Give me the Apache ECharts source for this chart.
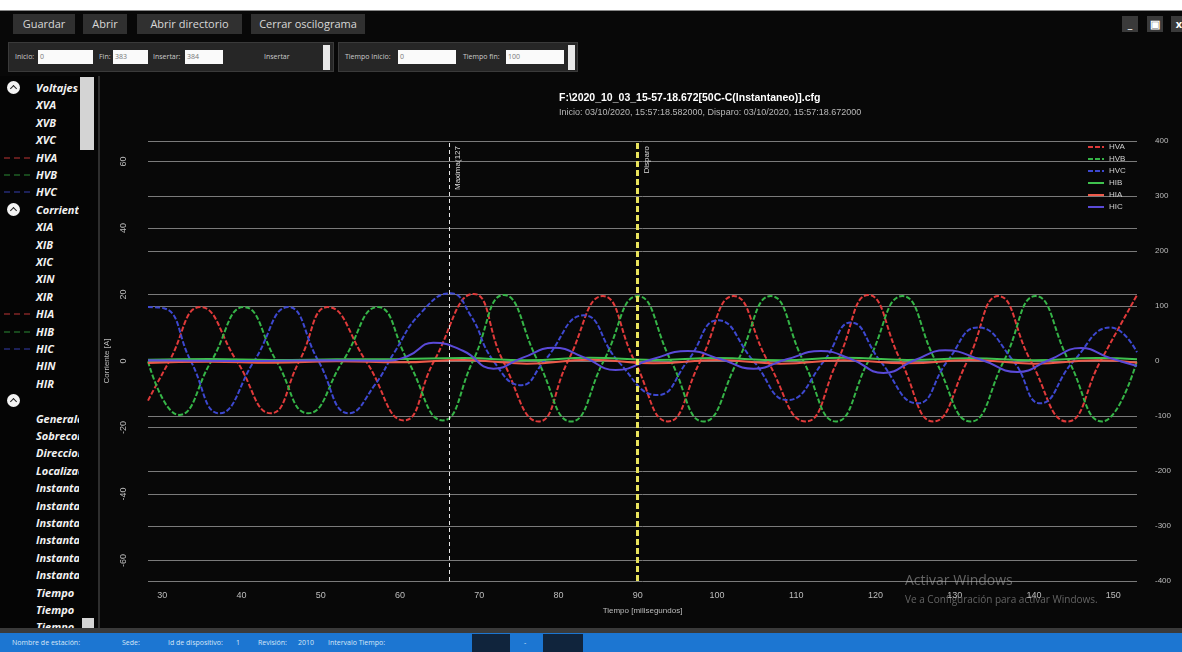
<!DOCTYPE html>
<html>
<head>
<meta charset="utf-8">
<script src="https://cdn.jsdelivr.net/npm/echarts@6/dist/echarts.min.js"></script>
<style>
html, body { margin: 0; padding: 0; width: 1182px; height: 652px; overflow: hidden; background: #fff; font-family: 'Open Sans', 'Noto Sans', sans-serif; }
#win { position: absolute; left: 0; top: 10px; width: 1182px; height: 642px; background: #080808; border-top: 1px solid #888; }
.btn { position: absolute; top: 14px; height: 20px; line-height: 20px; background: #303030; color: #d8d8d8; font-size: 11px; text-align: center; }
.panel { position: absolute; top: 42px; height: 30px; background: #262626; border: 1px solid #3a3a3a; box-sizing: border-box; }
.lbl { position: absolute; top: 9px; font-size: 7px; color: #ccc; }
.inp { position: absolute; top: 7px; height: 14px; background: #fafafa; color: #777; font-size: 7px; line-height: 14px; padding-left: 2px; box-sizing: border-box; }
.scr { position: absolute; top: 2px; width: 7px; height: 25px; background: #e8e8e8; }
.wbtn { position: absolute; top: 16px; width: 16px; height: 16px; background: #3a3a3a; color: #fff; font-size: 11px; font-weight: bold; line-height: 16px; text-align: center; }
#side { position: absolute; left: 0; top: 76px; width: 98px; height: 556px; background: #050505; border-right: 2px solid #2e2e2e; overflow: hidden; }
#sideList { position: absolute; left: 0; top: 0; width: 79px; height: 556px; overflow: hidden; }
.item { position: absolute; left: 36px; font-size: 11px; font-style: italic; font-weight: bold; color: #f2f2f2; white-space: nowrap; line-height: 14px; }
.circ { position: absolute; left: 7px; width: 13px; height: 13px; border-radius: 50%; background: #f4f4f4; }
.circ:after { content: ''; position: absolute; left: 4px; top: 5px; width: 4px; height: 4px; border-left: 1.5px solid #222; border-top: 1.5px solid #222; transform: rotate(45deg); }
.sw { position: absolute; left: 4px; width: 26px; height: 0; border-top: 2px dashed; opacity: 0.45; }
#chart { position: absolute; left: 102px; top: 76px; width: 1080px; height: 552px; }
#hbar { position: absolute; left: 0; top: 628px; width: 1182px; height: 5px; background: #3a3a3a; }
#status { position: absolute; left: 0; top: 633px; width: 1182px; height: 19px; background: #1c76d2; }
.st { position: absolute; top: 5px; font-size: 7px; color: #d7e6f7; white-space: nowrap; }
.stbox { position: absolute; top: 1px; height: 18px; background: #10243c; }
#wm1 { position: absolute; left: 905px; top: 570px; font-size: 14px; color: rgba(190,190,190,0.5); white-space: nowrap; }
#wm2 { position: absolute; left: 905px; top: 592px; font-size: 10px; color: rgba(190,190,190,0.5); white-space: nowrap; }
</style>
</head>
<body>
<div id="win"></div>
<div class="btn" style="left:13px;width:62px">Guardar</div>
<div class="btn" style="left:83px;width:44px">Abrir</div>
<div class="btn" style="left:137px;width:105px">Abrir directorio</div>
<div class="btn" style="left:251px;width:114px">Cerrar oscilograma</div>
<div class="panel" style="left:8px;width:326px">
  <span class="lbl" style="left:6px">Inicio:</span><div class="inp" style="left:29px;width:55px">0</div>
  <span class="lbl" style="left:90px">Fin:</span><div class="inp" style="left:104px;width:35px">383</div>
  <span class="lbl" style="left:144px">Insertar:</span><div class="inp" style="left:176px;width:38px">384</div>
  <span class="lbl" style="left:255px">Insertar</span><div class="scr" style="left:314px"></div>
</div>
<div class="panel" style="left:338px;width:240px">
  <span class="lbl" style="left:6px">Tiempo Inicio:</span><div class="inp" style="left:59px;width:58px">0</div>
  <span class="lbl" style="left:124px">Tiempo fin:</span><div class="inp" style="left:167px;width:58px">100</div>
  <div class="scr" style="left:229px"></div>
</div>
<div class="wbtn" style="left:1122px">_</div>
<div class="wbtn" style="left:1147px">&#9635;</div>
<div class="wbtn" style="left:1171px">x</div>
<div id="side"><div id="sideList"></div></div>
<div id="chart"></div>
<div id="hbar"></div>
<div id="status">
  <span class="st" style="left:12px">Nombre de estación:</span>
  <span class="st" style="left:122px">Sede:</span>
  <span class="st" style="left:168px">Id de dispositivo:</span>
  <span class="st" style="left:236px">1</span>
  <span class="st" style="left:258px">Revisión:</span>
  <span class="st" style="left:298px">2010</span>
  <span class="st" style="left:328px">Intervalo Tiempo:</span>
  <div class="stbox" style="left:472px;width:38px"></div>
  <span class="st" style="left:524px">-</span>
  <div class="stbox" style="left:543px;width:40px"></div>
</div>
<div id="wm1">Activar Windows</div>
<div id="wm2">Ve a Configuración para activar Windows.</div>
<script>
// lista lateral de canales
let sideNames = ['Voltajes', 'XVA', 'XVB', 'XVC', 'HVA', 'HVB', 'HVC', 'Corrientes', 'XIA', 'XIB', 'XIC', 'XIN', 'XIR', 'HIA', 'HIB', 'HIC', 'HIN', 'HIR', '',
    'Generales', 'Sobrecorriente', 'Direccional', 'Localizador', 'Instantaneo', 'Instantaneo', 'Instantaneo', 'Instantaneo', 'Instantaneo', 'Instantaneo',
    'Tiempo', 'Tiempo', 'Tiempo'];
let headers = [0, 7, 18];
let sideColors = { HVA: '#d23a3a', HVB: '#2f9a3c', HVC: '#3a44c0', HIA: '#d23a3a', HIB: '#2f9a3c', HIC: '#3a44c0' };

let html = '';
sideNames.forEach((name, i) => {
    let y = 5 + i * 17.4;
    if(headers.indexOf(i) >= 0) {
        html += '<div class="circ" style="top:' + y + 'px"></div>';
    }
    if(sideColors[name]) {
        html += '<div class="sw" style="top:' + (y + 6) + 'px;border-color:' + sideColors[name] + '"></div>';
    }
    html += '<div class="item" style="top:' + y + 'px">' + name + '</div>';
});
document.getElementById('sideList').innerHTML = html;
document.getElementById('side').insertAdjacentHTML('beforeend',
    '<div style="position:absolute;left:80px;top:1px;width:14px;height:73px;background:#d4d4d4"></div>' +
    '<div style="position:absolute;left:82px;top:542px;width:12px;height:12px;background:#d4d4d4"></div>');

// ejes
let xTicks = [30, 40, 50, 60, 70, 80, 90, 100, 110, 120, 130, 140, 150];
let leftTicks = [-60, -40, -20, 0, 20, 40, 60];

// tensiones (eje derecho, V)
let hvaT = [28.2, 30.9, 34.8, 39.4, 43.7, 47.3, 50.9, 55.7, 60.5, 64.3, 69.3, 73.0, 77.5, 81.2, 85.6, 89.6, 93.8, 97.9, 102.1, 106.4, 111.2, 115.2, 119.1, 123.2, 127.3, 131.6, 135.5, 139.6, 144.2, 148.4, 153.0];
let hvaV = [-72, 0, 98, 0, -95, 0, 98, 0, -108, 0, 122, 0, -110, 0, 118, 0, -110, 0, 118, 0, -110, 0, 120, 0, -110, 0, 118, 0, -110, 0, 120];

let hvbT = [28.2, 32.1, 36.2, 40.3, 44.4, 48.4, 52.8, 57.2, 61.0, 65.4, 69.2, 73.1, 77.4, 81.6, 85.7, 90.0, 94.2, 98.3, 102.6, 106.8, 110.9, 115.0, 119.1, 123.4, 127.6, 132.0, 136.2, 140.2, 144.4, 148.6, 153.0];
let hvbV = [-1, -98, 0, 98, 0, -95, 0, 98, 0, -108, 0, 120, 0, -110, 0, 118, 0, -110, 0, 118, 0, -110, 0, 118, 0, -110, 0, 118, 0, -110, 0];

let hvcT = [28.2, 30.2, 33.6, 37.2, 41.6, 45.9, 49.7, 53.6, 56.8, 59.3, 62.6, 66.4, 68.9, 71.8, 75.3, 78.2, 83.2, 87.5, 92.5, 96.3, 100.1, 104.6, 108.9, 113.5, 116.9, 120.6, 125.3, 129.1, 132.9, 137.4, 140.8, 145.0, 149.7, 153.0];
let hvcV = [98, 96, 0, -95, 0, 98, 0, -95, -44, 16, 87, 123, 83, 0, -44, 0, 83, 0, -62, 0, 74, 0, -71, 0, 70, 0, -77, 0, 61, 0, -77, 0, 61, 16];

// corrientes (eje izquierdo, A)
let hiaT = [28.2, 36, 44, 52, 60, 68, 76, 84, 92, 100, 108, 116, 124, 132, 140, 148, 153];
let hiaV = [-0.6, -0.2, -0.5, -0.1, -0.4, 0.3, -0.8, 0.4, -0.7, 0.3, -0.8, 0.2, -0.7, 0.3, -0.8, 0.2, -0.5];
let hibT = [28.2, 36, 44, 52, 60, 68, 76, 84, 92, 100, 108, 116, 124, 132, 140, 148, 153];
let hibV = [0.4, 0.6, 0.3, 0.5, 0.6, 0.9, 0.2, 1.0, 0.3, 0.9, 0.2, 1.0, 0.3, 0.8, 0.2, 0.9, 0.5];
let hicT = [28.2, 40, 50, 58, 61, 64.2, 68, 71.8, 75.5, 79.4, 83.3, 87.2, 91.8, 96.3, 100.5, 104.6, 108.8, 113.1, 117, 121, 125, 128.8, 133.4, 137.9, 141.9, 145.9, 149.5, 153];
let hicV = [0.2, 0, 0.2, 0.1, 1.5, 5.5, 3, -2.3, 1, 4, 1, -2.7, 0.5, 3, 0.5, -2.3, 0.5, 3, 0.5, -3.6, 0.3, 3.2, 0.3, -3.3, 0.3, 3.9, 1, -1.5];

// marcadores verticales
let markT = [66.2, 90];
let markText = ['Maxima(127', 'Disparo'];

function pairs(t, v) {
    return t.map((x, i) => [x, v[i]]);
}

let chans = [
    { name: 'HVA', t: hvaT, v: hvaV, color: '#e03a3a', axis: 1, dash: [5, 2] },
    { name: 'HVB', t: hvbT, v: hvbV, color: '#35b447', axis: 1, dash: [5, 2] },
    { name: 'HVC', t: hvcT, v: hvcV, color: '#3d48d0', axis: 1, dash: [5, 2] },
    { name: 'HIB', t: hibT, v: hibV, color: '#3fc24e', axis: 0, dash: 'solid' },
    { name: 'HIA', t: hiaT, v: hiaV, color: '#ee5a4a', axis: 0, dash: 'solid' },
    { name: 'HIC', t: hicT, v: hicV, color: '#5a4ad8', axis: 0, dash: 'solid' }
];

let series = chans.map(c => ({
    name: c.name,
    type: 'line',
    yAxisIndex: c.axis,
    data: pairs(c.t, c.v),
    smooth: 0.5,
    symbol: 'none',
    showSymbol: false,
    animation: false,
    color: c.color,
    lineStyle: { width: 2, type: c.dash, color: c.color }
}));

series[0].markLine = {
    symbol: 'none',
    silent: true,
    animation: false,
    data: [
        { xAxis: markT[0], lineStyle: { color: '#e6e6e6', type: [4, 3], width: 1 },
          label: { formatter: markText[0], position: 'insideEndBottom', color: '#ddd', fontSize: 8 } },
        { xAxis: markT[1], lineStyle: { color: '#e9e35c', type: [6, 3], width: 3 },
          label: { formatter: markText[1], position: 'insideEndBottom', color: '#ddd', fontSize: 8 } }
    ]
};

let myChart = echarts.init(document.getElementById('chart'));
let gridLine = { show: true, lineStyle: { color: '#7a7a7a', width: 1 } };

myChart.setOption({
    backgroundColor: 'transparent',
    animation: false,
    title: {
        text: 'F:\\2020_10_03_15-57-18.672[50C-C(Instantaneo)].cfg',
        subtext: 'Inicio: 03/10/2020, 15:57:18.582000, Disparo: 03/10/2020, 15:57:18.672000',
        left: 452,
        top: 12,
        itemGap: 4,
        textStyle: { color: '#fff', fontSize: 10.5, fontWeight: 'bold' },
        subtextStyle: { color: '#b8b8b8', fontSize: 9 }
    },
    legend: {
        data: chans.map(c => c.name),
        orient: 'vertical',
        left: 980,
        top: 62,
        itemWidth: 16,
        itemHeight: 8,
        itemGap: 4,
        itemStyle: { opacity: 0 },
        textStyle: { color: '#d0d0d0', fontSize: 8 }
    },
    grid: { left: 46, right: 45, top: 65, bottom: 47, outerBoundsMode: 'none' },
    xAxis: {
        type: 'value',
        min: 28.2,
        max: 153,
        axisLine: { show: false },
        axisTick: { show: false, customValues: xTicks },
        splitLine: { show: false },
        axisLabel: { customValues: xTicks, color: '#bdbdbd', fontSize: 9, margin: 10 },
        name: 'Tiempo [milisegundos]',
        nameLocation: 'middle',
        nameGap: 26,
        nameTextStyle: { color: '#bdbdbd', fontSize: 8 }
    },
    yAxis: [
        {
            type: 'value',
            min: -66.2,
            max: 66.2,
            axisLine: { show: false },
            axisTick: { show: false, customValues: leftTicks },
            axisLabel: { customValues: leftTicks, rotate: 90, color: '#bdbdbd', fontSize: 9, margin: 20 },
            splitLine: gridLine,
            name: 'Corriente [A]',
            nameLocation: 'middle',
            nameGap: 27,
            nameTextStyle: { color: '#bdbdbd', fontSize: 8 }
        },
        {
            type: 'value',
            min: -400,
            max: 400,
            interval: 100,
            position: 'right',
            axisLine: { show: false },
            axisTick: { show: false },
            axisLabel: { color: '#bdbdbd', fontSize: 8, margin: 18 },
            splitLine: gridLine,
            name: 'Voltaje [V]',
            nameLocation: 'middle',
            nameGap: 39,
            nameTextStyle: { color: '#bdbdbd', fontSize: 8 }
        }
    ],
    series: series
});
</script>
</body>
</html>
